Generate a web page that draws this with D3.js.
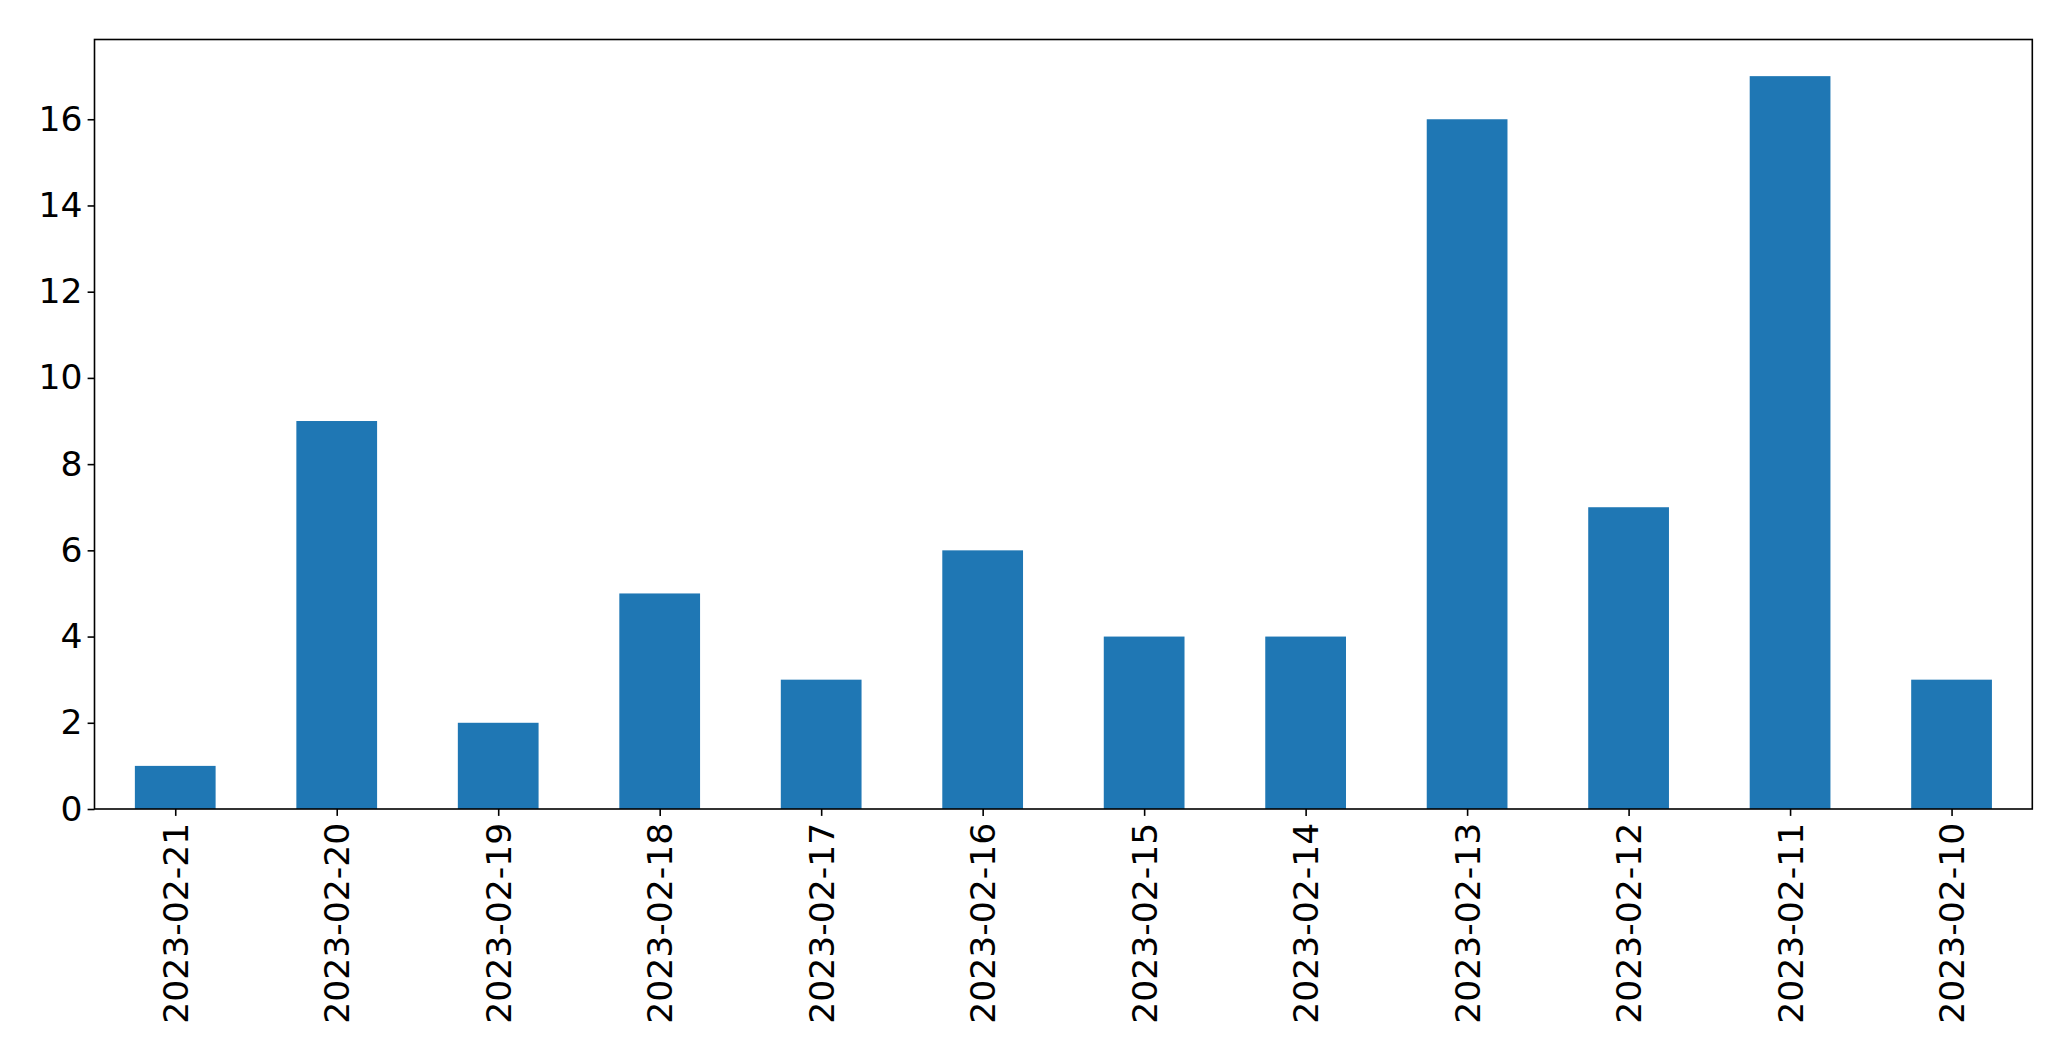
<!DOCTYPE html>
<html>
<head>
<meta charset="utf-8">
<script src="https://cdn.jsdelivr.net/npm/d3@7"></script>
<style>
  html, body { margin: 0; padding: 0; background: #fff; }
  svg { display: block; }
  text { font-family: "DejaVu Sans", sans-serif; fill: #000; }
</style>
</head>
<body>
<script>
const categories = ["2023-02-21","2023-02-20","2023-02-19","2023-02-18","2023-02-17","2023-02-16","2023-02-15","2023-02-14","2023-02-13","2023-02-12","2023-02-11","2023-02-10"];
const values = [1, 9, 2, 5, 3, 6, 4, 4, 16, 7, 17, 3];
const yTicks = [0, 2, 4, 6, 8, 10, 12, 14, 16];

(function () {
const W = 2071, H = 1061;
const plotLeft = 94.5, plotRight = 2032.3, plotTop = 39.5, plotBottom = 809;
const fontSize = 34.6;
const tickLen = 6.9, pad = 6.9, yPad = 5;

const svg = d3.select("body").append("svg").attr("width", W).attr("height", H);

const x = d3.scaleLinear().domain([-0.5, categories.length - 0.5]).range([plotLeft, plotRight]);
const yMax = d3.max(values) * 1.05;
const y = d3.scaleLinear().domain([0, yMax]).range([plotBottom, plotTop]);

// bars
svg.append("g").selectAll("rect").data(values).join("rect")
  .attr("x", (d, i) => x(i - 0.25))
  .attr("width", (d, i) => x(i + 0.25) - x(i - 0.25))
  .attr("y", d => y(d))
  .attr("height", d => y(0) - y(d))
  .attr("fill", "#1f77b4");

// y axis
const yAxis = d3.axisLeft(y).tickValues(yTicks).tickSize(tickLen).tickPadding(yPad).tickFormat(d3.format("d"));
const gy = svg.append("g").attr("transform", `translate(${plotLeft},0)`).call(yAxis);
gy.select(".domain").remove();
gy.selectAll("line").attr("stroke", "#000").attr("stroke-width", 1.6);
gy.selectAll("text").style("font-size", fontSize + "px").attr("font-family", "DejaVu Sans").attr("fill", "#000");

// x axis
const xIdx = categories.map((c, i) => i);
const xAxis = d3.axisBottom(x).tickValues(xIdx).tickSize(tickLen).tickPadding(pad).tickFormat(i => categories[i]);
const gx = svg.append("g").attr("transform", `translate(0,${plotBottom})`).call(xAxis);
gx.select(".domain").remove();
gx.selectAll("line").attr("stroke", "#000").attr("stroke-width", 1.6);
gx.selectAll("text")
  .style("font-size", fontSize + "px")
  .attr("font-family", "DejaVu Sans")
  .attr("fill", "#000")
  .attr("text-anchor", "end")
  .attr("dy", "0.35em")
  .attr("x", 0).attr("y", 0)
  .attr("transform", `translate(0,${tickLen + pad}) rotate(-90)`);

// frame
svg.append("rect")
  .attr("x", plotLeft).attr("y", plotTop)
  .attr("width", plotRight - plotLeft).attr("height", plotBottom - plotTop)
  .attr("fill", "none").attr("stroke", "#000").attr("stroke-width", 1.6);
})();
</script>
</body>
</html>
